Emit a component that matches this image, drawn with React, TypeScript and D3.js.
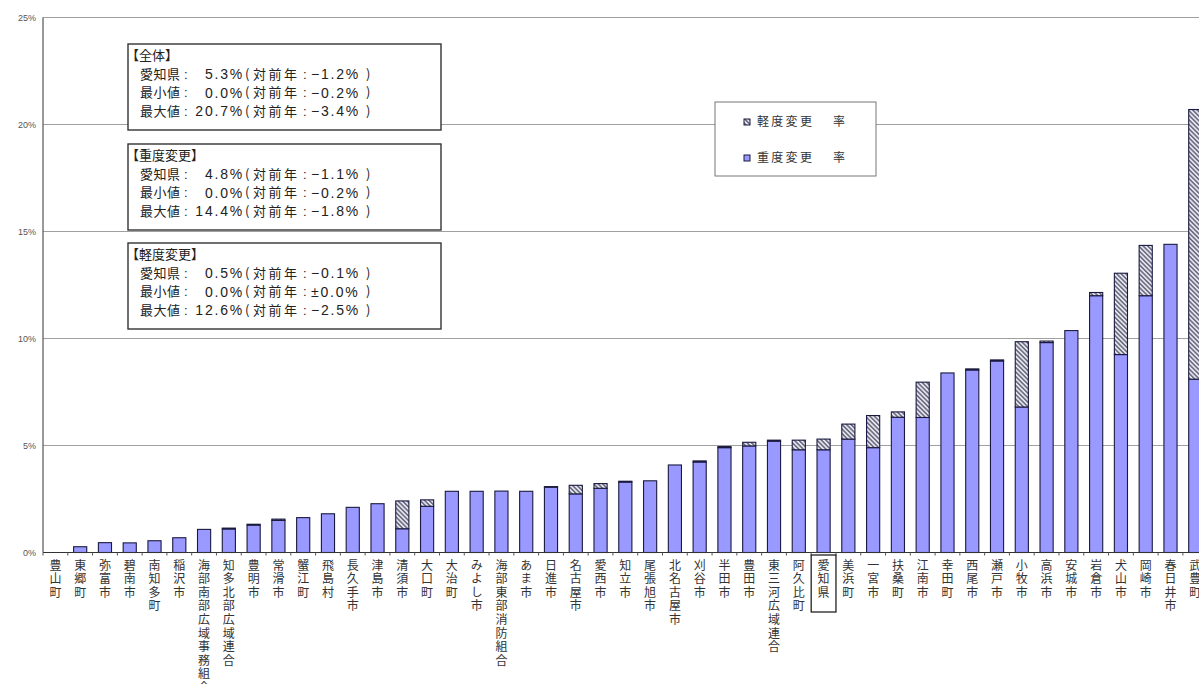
import React from 'react';
import * as d3 from 'd3';

// 消防本部別 変更率（重度・軽度）
const categories = [
  '豊山町', '東郷町', '弥富市', '碧南市', '南知多町', '稲沢市', '海部南部広域事務組合', '知多北部広域連合',
  '豊明市', '常滑市', '蟹江町', '飛島村', '長久手市', '津島市', '清須市', '大口町', '大治町', 'みよし市',
  '海部東部消防組合', 'あま市', '日進市', '名古屋市', '愛西市', '知立市', '尾張旭市', '北名古屋市', '刈谷市',
  '半田市', '豊田市', '東三河広域連合', '阿久比町', '愛知県', '美浜町', '一宮市', '扶桑町', '江南市', '幸田町',
  '西尾市', '瀬戸市', '小牧市', '高浜市', '安城市', '岩倉市', '犬山市', '岡崎市', '春日井市', '武豊町',
];

// 重度変更率 (%)
const severeRate = [
  0, 0.27, 0.46, 0.45, 0.55, 0.69, 1.08, 1.1, 1.28, 1.5, 1.63, 1.81, 2.11, 2.28, 1.11, 2.16, 2.86, 2.86,
  2.87, 2.86, 3.05, 2.74, 3.0, 3.29, 3.35, 4.09, 4.23, 4.9, 4.98, 5.2, 4.8, 4.8, 5.3, 4.9, 6.32, 6.31, 8.39,
  8.53, 8.95, 6.8, 9.81, 10.37, 12.0, 9.25, 12.0, 14.4, 8.1,
];

// 軽度変更率 (%)
const minorRate = [
  0, 0, 0, 0, 0, 0, 0, 0.04, 0.04, 0.06, 0, 0, 0, 0, 1.3, 0.3, 0, 0,
  0, 0, 0.03, 0.4, 0.22, 0.04, 0, 0, 0.05, 0.05, 0.17, 0.05, 0.45, 0.5, 0.7, 1.5, 0.25, 1.65, 0,
  0.05, 0.05, 3.05, 0.07, 0, 0.15, 3.8, 2.35, 0, 12.6,
];

const yTicks = [0, 5, 10, 15, 20, 25];

const legendLabels = ['軽度変更', '重度変更'];

const summaryTitles = ['【全体】', '【重度変更】', '【軽度変更】'];
const summaryNames = ['愛知県', '最小値', '最大値'];
const summaryValues = [
  ['5.3%', '0.0%', '20.7%'],
  ['4.8%', '0.0%', '14.4%'],
  ['0.5%', '0.0%', '12.6%'],
];
const summaryChanges = [
  ['−1.2%', '−0.2%', '−3.4%'],
  ['−1.1%', '−0.2%', '−1.8%'],
  ['−0.1%', '±0.0%', '−2.5%'],
];

const W = 1199;
const H = 684;
const FONT = "'Noto Sans CJK JP', 'Noto Sans', sans-serif";
const NUM_FONT = "'Liberation Sans', 'Noto Sans', sans-serif";
const HEAVY = '#9999ff';
const EDGE = '#1a1a40';

export default function App() {
  const step = 24.78;
  const left = 43;
  const x = d3
    .scaleBand<string>()
    .domain(categories)
    .range([left, left + step * categories.length])
    .paddingInner(0.47)
    .paddingOuter(0.235);
  const y = d3.scaleLinear().domain([0, 25]).range([552.5, 17.5]);
  const bw = x.bandwidth();
  const gap = (x.step() * 0.47) / 2;

  const boxTops = [44, 144, 243];

  return (
    <svg
      width={W}
      height={H}
      style={{ position: 'absolute', left: 0, top: 0, background: '#fff' }}
      fontFamily={FONT}
    >
      <defs>
        <pattern id="hatch" width="3.2" height="10" patternUnits="userSpaceOnUse" patternTransform="rotate(-45)">
          <rect width="3.2" height="10" fill="#e4e4f2" />
          <line x1="0.8" y1="0" x2="0.8" y2="10" stroke="#3a3a4a" strokeWidth="1.1" />
        </pattern>
      </defs>

      {/* gridlines */}
      {yTicks.slice(1).map((t) => (
        <line key={t} x1={left} x2={W} y1={y(t)} y2={y(t)} stroke="#a0a0a0" strokeWidth={1.2} />
      ))}
      {/* y axis */}
      <line x1={left} x2={left} y1={y(25)} y2={y(0)} stroke="#555" strokeWidth={1.2} />
      {yTicks.map((t) => (
        <text key={t} x={36} y={y(t)} dy="0.35em" textAnchor="end" fontSize={9} fill="#555" fontFamily={NUM_FONT}>
          {t}%
        </text>
      ))}

      {/* bars */}
      {categories.map((c, i) => {
        const bx = x(c)!;
        const s = severeRate[i];
        const m = minorRate[i];
        return (
          <g key={c}>
            {s > 0 && (
              <rect x={bx} y={y(s)} width={bw} height={y(0) - y(s)} fill={HEAVY} stroke={EDGE} strokeWidth={1.1} />
            )}
            {m > 0 && (
              <rect x={bx} y={y(s + m)} width={bw} height={y(s) - y(s + m)} fill="url(#hatch)" stroke={EDGE} strokeWidth={1.1} />
            )}
          </g>
        );
      })}

      {/* x axis */}
      <line x1={left} x2={W} y1={y(0)} y2={y(0)} stroke="#333" strokeWidth={1.2} />
      {categories.map((c) => (
        <line key={c} x1={x(c)! - gap} x2={x(c)! - gap} y1={y(0)} y2={y(0) + 3} stroke="#555" />
      ))}
      {categories.map((c) => {
        const cx = x(c)! + bw / 2;
        return (
          <g key={c}>
            <text
              x={cx}
              y={559}
              fontSize={12}
              letterSpacing={1.6}
              fill="#333"
              style={{ writingMode: 'vertical-rl' }}
            >
              {c}
            </text>
            {c === '愛知県' && (
              <rect x={x(c)! - gap} y={555} width={x.step()} height={57} fill="none" stroke="#222" strokeWidth={1.3} />
            )}
          </g>
        );
      })}

      {/* summary boxes */}
      {summaryTitles.map((title, b) => {
        const top = boxTops[b];
        return (
          <g key={title} fontSize={13} fill="#222">
            <rect x={128} y={top} width={313} height={86} fill="#fff" stroke="#333" strokeWidth={1.4} />
            <text x={126} y={top + 11} dy="0.36em">{title}</text>
            {summaryNames.map((n, r) => {
              const ly = top + 30 + r * 18.5;
              return (
                <g key={n}>
                  <text x={140} y={ly} dy="0.36em" letterSpacing={0.5}>{n}</text>
                  <text x={184} y={ly} dy="0.36em" fontFamily={NUM_FONT}>:</text>
                  <text x={244} y={ly} dy="0.36em" textAnchor="end" fontSize={14} letterSpacing={1.8} fontFamily={NUM_FONT}>
                    {summaryValues[b][r]}
                  </text>
                  <text x={245} y={ly} dy="0.36em">(</text>
                  <text x={253} y={ly} dy="0.36em" letterSpacing={2.5}>対前年</text>
                  <text x={303} y={ly} dy="0.36em" fontFamily={NUM_FONT}>:</text>
                  <text x={311} y={ly} dy="0.36em" fontSize={14} letterSpacing={1.8} fontFamily={NUM_FONT}>
                    {summaryChanges[b][r]}
                  </text>
                  <text x={366} y={ly} dy="0.36em">)</text>
                </g>
              );
            })}
          </g>
        );
      })}

      {/* legend */}
      <g>
        <rect x={715} y={102} width={161} height={74} fill="#fff" stroke="#777" strokeWidth={1} />
        {legendLabels.map((l, i) => {
          const ly = 122 + i * 36;
          return (
            <g key={l}>
              <rect x={744} y={ly - 3} width={6} height={6} fill={i === 0 ? 'url(#hatch)' : HEAVY} stroke={EDGE} strokeWidth={1} />
              <text x={757} y={ly} dy="0.36em" fontSize={12} letterSpacing={2.3} fill="#333">{l}</text>
              <text x={833} y={ly} dy="0.36em" fontSize={12} fill="#333">率</text>
            </g>
          );
        })}
      </g>
    </svg>
  );
}
